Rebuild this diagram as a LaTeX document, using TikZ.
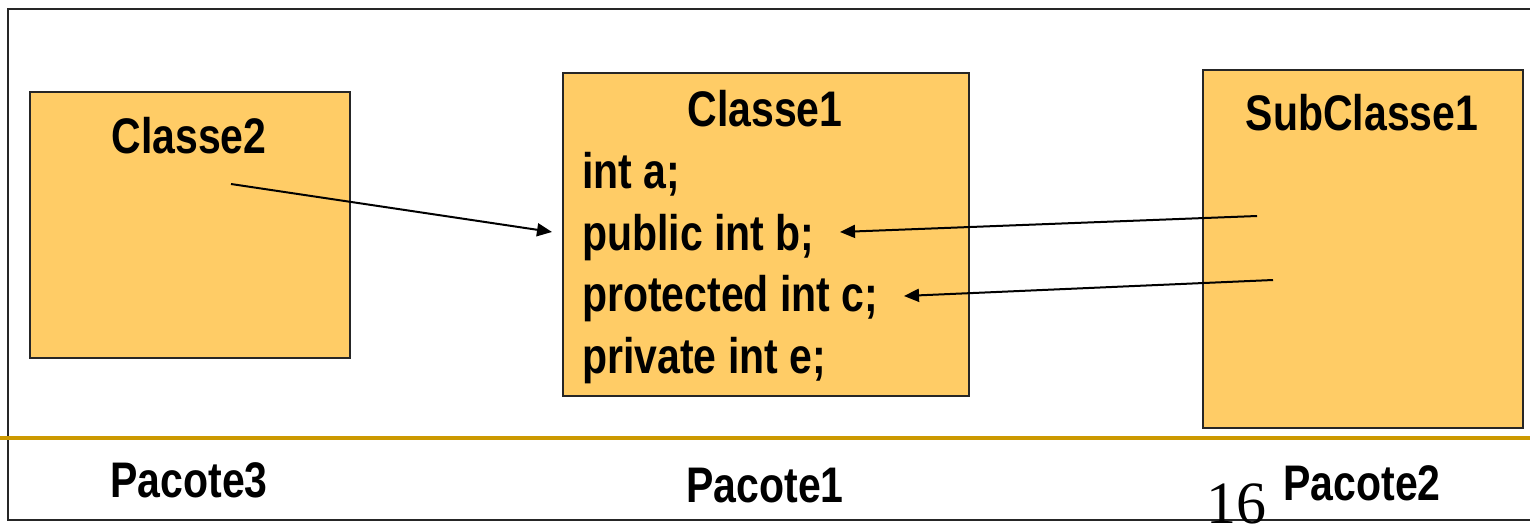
\documentclass[tikz,border=0pt]{standalone}
\usepackage{fontspec}
\setmainfont{Liberation Sans}[FakeStretch=0.82]
\newfontfamily\pagenumfont{Liberation Serif}
\usetikzlibrary{arrows.meta}
\definecolor{boxfill}{HTML}{FFCC66}
\definecolor{rulegold}{HTML}{CC9900}
\begin{document}
\begin{tikzpicture}[x=1pt,y=-1pt,
  classbox/.style={draw=black!85, line width=2pt, fill=boxfill, anchor=north west, inner sep=0pt},
  lbl/.style={font=\fontsize{50}{60}\selectfont\bfseries, inner sep=0pt, anchor=base},
  member/.style={lbl, anchor=base west},
  link/.style={line width=2pt, -{Triangle[length=15pt,width=13pt]}}]
\useasboundingbox (0,0) rectangle (1530,524);

% package frame and separator
\draw[line width=2pt, draw=black!85] (8,9) rectangle (1545,520);

% classes
\node[classbox, minimum width=320pt, minimum height=266pt] (c2box) at (29,91) {};
\node[classbox, minimum width=406pt, minimum height=323pt] (c1box) at (562,72) {};
\node[classbox, minimum width=320pt, minimum height=358pt] (subbox) at (1202,69) {};

\draw[rulegold, line width=4pt] (0,438) -- (1530,438);

% class names
\node[lbl] (c2name) at (189,153) {Classe2};
\node[lbl] (c1name) at (765,126) {Classe1};
\node[lbl] (subname) at (1362,130) {SubClasse1};

% members of Classe1
\node[member] (ma) at (582,188) {int a;};
\node[member] (mb) at (582,250) {public int b;};
\node[member] (mc) at (582,311) {protected int c;};
\node[member] (me) at (582,373) {private int e;};

% package names
\node[lbl] (p3) at (189,497) {Pacote3};
\node[lbl] (p1) at (765,502) {Pacote1};
\node[lbl] (p2) at (1362,500) {Pacote2};

% slide number
\node[font=\pagenumfont\fontsize{60}{60}\selectfont, inner sep=0pt, anchor=base west] (pagenum) at (1206,523) {16};

% access arrows
\coordinate (t1) at (231,184);
\coordinate (h1) at (552,232);
\coordinate (t2) at (1257,216);
\coordinate (h2) at (840,232);
\coordinate (t3) at (1273,280);
\coordinate (h3) at (904,296);
\draw[link] (t1) -- (h1);
\draw[link] (t2) -- (h2);
\draw[link] (t3) -- (h3);
\end{tikzpicture}
\end{document}
